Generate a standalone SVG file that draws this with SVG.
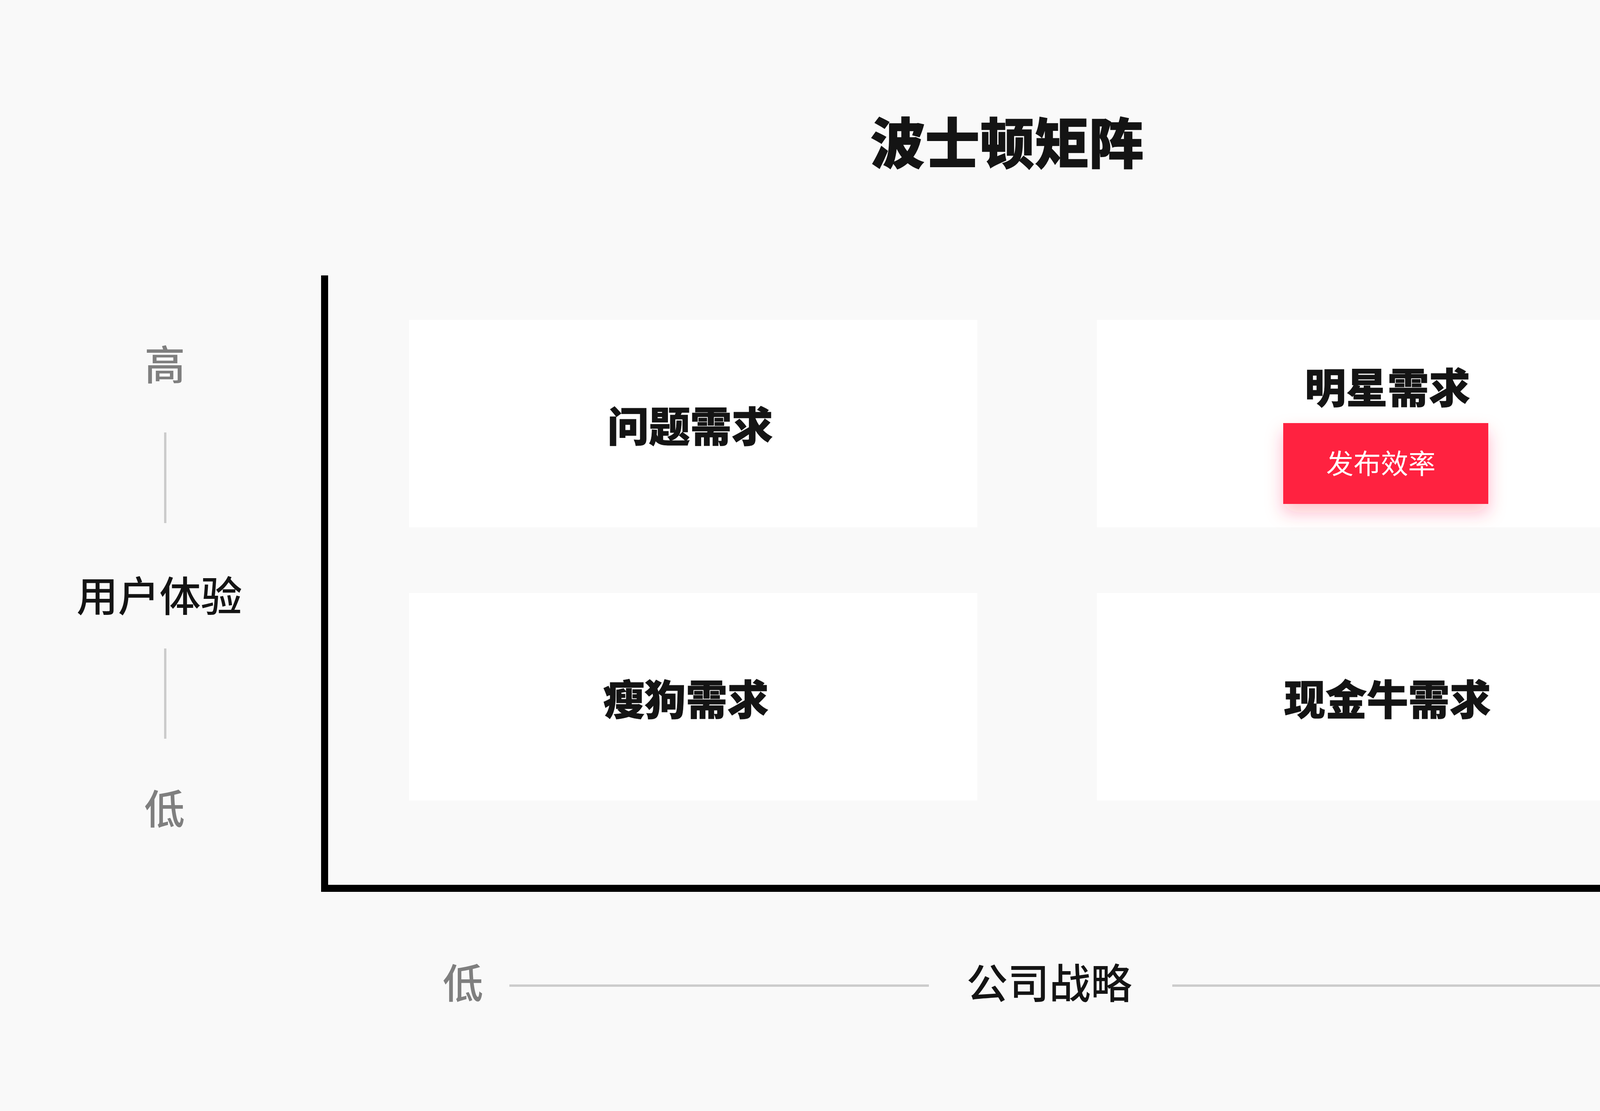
<svg xmlns="http://www.w3.org/2000/svg" width="5292" height="2844" viewBox="0 0 5292 2844">
<defs>
<style>
.t{font-family:"Noto Sans CJK SC","Noto Sans CJK JP",sans-serif;text-anchor:middle}
.title{font-size:140px;font-weight:900;fill:#141414;stroke:#141414;stroke-width:1.5}
.lbl{font-size:106px;font-weight:900;fill:#141414;stroke:#141414;stroke-width:1}
.axis{font-size:106px;font-weight:500;fill:#141414}
.lvl{font-size:104px;font-weight:500;fill:#7f7f7f}
.btn{font-size:70px;font-weight:400;fill:#ffffff}
.box{fill:#ffffff}
.thin{stroke:#cccccc;stroke-width:6;fill:none}
.thick{stroke:#000000;stroke-width:18;fill:none}
</style>
<filter id="sh" x="-30%" y="-40%" width="160%" height="200%">
<feDropShadow dx="0" dy="22" stdDeviation="22" flood-color="#ff2340" flood-opacity="0.28"/>
</filter>
</defs>
<rect x="0" y="0" width="5292" height="2844" fill="#f9f9f9"/>
<text class="t title" x="2578" y="419">波士顿矩阵</text>
<g id="connectors">
<path class="thick" d="M831 705 V2274 H4695"/>
<line class="thin" x1="423" y1="1107" x2="423" y2="1339"/>
<line class="thin" x1="423" y1="1660" x2="423" y2="1891"/>
<line class="thin" x1="1304" y1="2523" x2="2378" y2="2523"/>
<line class="thin" x1="3001" y1="2523" x2="4201" y2="2523"/>
</g>
<g id="y-axis-labels">
<text class="t lvl" x="422" y="973">高</text>
<text class="t axis" x="408" y="1565">用户体验</text>
<text class="t lvl" x="421" y="2110">低</text>
</g>
<g id="x-axis-labels">
<text class="t lvl" x="1185" y="2556">低</text>
<text class="t axis" x="2686" y="2556">公司战略</text>
<text class="t lvl" x="4356" y="2556">高</text>
</g>
<g id="node-question">
<rect class="box" x="1047" y="819" width="1455" height="531"/>
<text class="t lbl" x="1767" y="1131">问题需求</text>
</g>
<g id="node-star">
<rect class="box" x="2808" y="819" width="1455" height="531"/>
<text class="t lbl" x="3552" y="1032">明星需求</text>
<rect x="3285" y="1083" width="525" height="207" fill="#ff2340" filter="url(#sh)"/>
<text class="t btn" x="3535" y="1213">发布效率</text>
</g>
<g id="node-dog">
<rect class="box" x="1047" y="1518" width="1455" height="531"/>
<text class="t lbl" x="1756" y="1830">瘦狗需求</text>
</g>
<g id="node-cow">
<rect class="box" x="2808" y="1518" width="1455" height="531"/>
<text class="t lbl" x="3552" y="1830">现金牛需求</text>
</g>
</svg>
